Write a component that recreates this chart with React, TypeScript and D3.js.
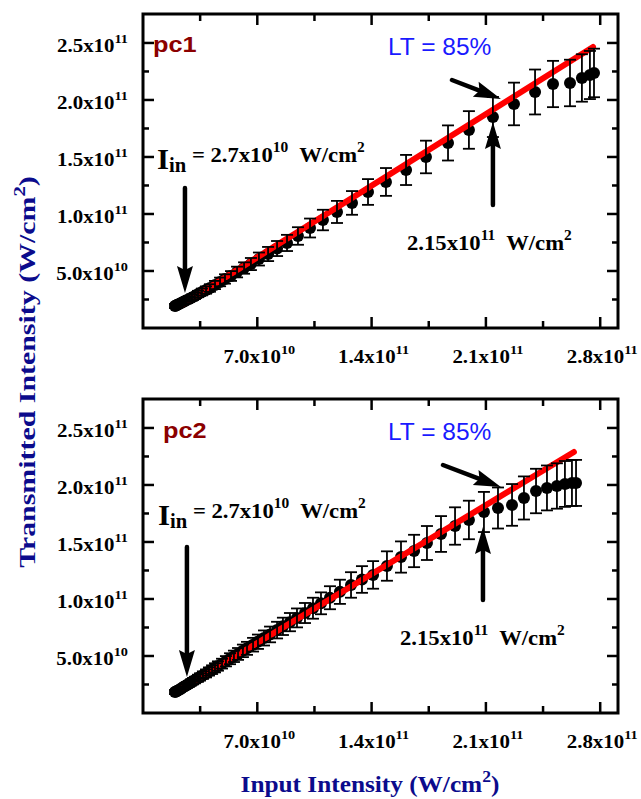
import React from "react";
import * as d3 from "d3";

// all intensities in units of 1e10 W/cm^2
const pc1Input = [1.96, 2.02, 2.08, 2.14, 2.27, 2.39, 2.51, 2.63, 2.82, 3.0, 3.18, 3.37, 3.61, 3.86, 4.1, 4.41, 4.72, 5.02, 5.39, 5.76, 6.19, 6.61, 7.1, 7.66, 8.21, 8.82, 9.49, 10.23, 11.02, 11.88, 12.8, 13.78, 14.88, 16.11, 17.33, 18.68, 19.96, 21.43, 22.72, 24.01, 25.11, 26.15, 26.88, 27.37, 27.62];
const pc1Output = [1.93, 1.97, 2.02, 2.06, 2.15, 2.24, 2.32, 2.41, 2.54, 2.68, 2.81, 2.98, 3.16, 3.33, 3.51, 3.77, 4.04, 4.3, 4.56, 4.91, 5.26, 5.61, 6.05, 6.49, 6.97, 7.46, 8.07, 8.77, 9.47, 10.18, 10.97, 11.93, 12.81, 13.86, 15.0, 16.23, 17.37, 18.51, 19.65, 20.7, 21.4, 21.49, 21.93, 22.19, 22.37];
const pc1Error = [0.18, 0.19, 0.19, 0.2, 0.2, 0.21, 0.22, 0.23, 0.24, 0.25, 0.27, 0.28, 0.3, 0.32, 0.33, 0.36, 0.38, 0.41, 0.43, 0.47, 0.5, 0.53, 0.57, 0.62, 0.66, 0.71, 0.77, 0.83, 0.9, 0.97, 1.04, 1.13, 1.22, 1.32, 1.43, 1.54, 1.65, 1.76, 1.87, 1.97, 2.03, 2.04, 2.08, 2.11, 2.13];
const pc1FitX = [2.4, 27.56];
const pc1FitY = [2.07, 24.65];

const pc2Input = [1.96, 2.02, 2.08, 2.14, 2.27, 2.33, 2.45, 2.57, 2.69, 2.82, 2.94, 3.06, 3.18, 3.37, 3.49, 3.67, 3.86, 4.04, 4.23, 4.41, 4.59, 4.84, 5.08, 5.33, 5.57, 5.82, 6.12, 6.37, 6.74, 7.04, 7.41, 7.78, 8.21, 8.57, 9.0, 9.43, 9.92, 10.41, 10.9, 11.45, 12.06, 12.74, 13.41, 14.09, 14.94, 15.8, 16.6, 17.39, 18.25, 19.11, 19.96, 20.88, 21.74, 22.6, 23.33, 24.07, 24.74, 25.35, 25.84, 26.27, 26.52];
const pc2Output = [1.84, 1.89, 1.93, 1.97, 2.08, 2.13, 2.25, 2.35, 2.46, 2.56, 2.68, 2.79, 2.89, 3.05, 3.16, 3.32, 3.47, 3.64, 3.8, 3.96, 4.12, 4.33, 4.54, 4.76, 4.97, 5.18, 5.45, 5.67, 5.99, 6.25, 6.58, 6.89, 7.27, 7.6, 7.97, 8.34, 8.77, 9.19, 9.62, 10.11, 10.63, 11.23, 11.71, 12.11, 12.89, 13.68, 14.21, 14.91, 15.7, 16.4, 16.93, 17.63, 17.98, 18.25, 18.86, 19.47, 19.74, 19.91, 20.09, 20.18, 20.18];
const pc2Error = [0.18, 0.19, 0.19, 0.2, 0.21, 0.21, 0.22, 0.24, 0.25, 0.26, 0.27, 0.28, 0.29, 0.31, 0.32, 0.33, 0.35, 0.36, 0.38, 0.4, 0.41, 0.43, 0.45, 0.48, 0.5, 0.52, 0.55, 0.57, 0.6, 0.63, 0.66, 0.69, 0.73, 0.76, 0.8, 0.83, 0.88, 0.92, 0.96, 1.01, 1.06, 1.12, 1.17, 1.21, 1.29, 1.37, 1.42, 1.49, 1.57, 1.64, 1.69, 1.76, 1.8, 1.83, 1.89, 1.95, 1.97, 1.99, 2.01, 2.02, 2.02];
const pc2FitX = [2.4, 26.39];
const pc2FitY = [2.16, 22.89];

const xMajor = [7, 14, 21, 28];
const xMajorLabels = ["7.0x10", "1.4x10", "2.1x10", "2.8x10"];
const xMajorExp = ["10", "11", "11", "11"];
const xMinor = [3.5, 10.5, 17.5, 24.5];
const yMajor = [5, 10, 15, 20, 25];
const yMajorLabels = ["5.0x10", "1.0x10", "1.5x10", "2.0x10", "2.5x10"];
const yMajorExp = ["10", "11", "11", "11", "11"];
const yMinor = [2.5, 7.5, 12.5, 17.5, 22.5];

const SERIF = "'Liberation Serif', 'Times New Roman', serif";
const SANS = "'Liberation Sans', Arial, sans-serif";
const NAVY = "#0b0b8c";

const left = 143;
const right = 618;
const panelH = 314;

const panels = [
  {
    name: "pc1",
    top: 14,
    xs: pc1Input,
    ys: pc1Output,
    errs: pc1Error,
    fitX: pc1FitX,
    fitY: pc1FitY,
    nameX: 153,
    nameY: 38,
    ltY: 41,
    inX: 157,
    inY: 148,
    critX: 407,
    critY: 236,
    arrows: [
      [2.57, 12.28, 2.57, 3.07],
      [21.43, 10.79, 21.43, 18.07],
      [18.92, 21.75, 21.92, 20.09],
    ],
  },
  {
    name: "pc2",
    top: 399,
    xs: pc2Input,
    ys: pc2Output,
    errs: pc2Error,
    fitX: pc2FitX,
    fitY: pc2FitY,
    nameX: 163,
    nameY: 39,
    ltY: 41,
    inX: 158,
    inY: 119,
    critX: 400,
    critY: 246,
    arrows: [
      [2.69, 14.56, 2.69, 3.16],
      [20.82, 9.91, 20.82, 16.32],
      [18.37, 21.75, 21.92, 19.82],
    ],
  },
];

type Part = { t: string; fs: number; dy?: number };

const Rich = ({ x, y, parts, sx = 1, anchor = "start", fill = "#000", family = SERIF, weight = "bold", rot = 0 }: any) => (
  <text
    transform={`translate(${x},${y}) rotate(${rot}) scale(${sx},1)`}
    textAnchor={anchor}
    fill={fill}
    fontFamily={family}
    fontWeight={weight}
    style={{ whiteSpace: "pre" }}
  >
    {parts.map((p: Part, i: number) => (
      <tspan key={i} fontSize={p.fs} dy={p.dy || 0}>
        {p.t}
      </tspan>
    ))}
  </text>
);

const Arrow = ({ x1, y1, x2, y2 }: any) => {
  const dx = x2 - x1;
  const dy = y2 - y1;
  const len = Math.hypot(dx, dy);
  const ux = dx / len;
  const uy = dy / len;
  const hl = 27;
  const hw = 8;
  const bx = x2 - ux * hl;
  const by = y2 - uy * hl;
  const pts = [
    [x2, y2],
    [bx - uy * hw, by + ux * hw],
    [bx + ux * 4, by + uy * 4],
    [bx + uy * hw, by - ux * hw],
  ];
  return (
    <g>
      <line x1={x1} y1={y1} x2={bx + ux * 4} y2={by + uy * 4} stroke="#000" strokeWidth={4.5} strokeLinecap="round" />
      <polygon points={pts.map((p) => p.join(",")).join(" ")} fill="#000" />
    </g>
  );
};

const Panel = ({ p }: any) => {
  const top = p.top;
  const bottom = top + panelH;
  const x = d3.scaleLinear().domain([0, 29.09]).range([left, right]);
  const y = d3.scaleLinear().domain([0, 27.54]).range([bottom, top]);
  const fitLine = d3
    .line<number>()
    .x((d) => x(d))
    .y((_, i) => y(p.fitY[i]));
  const tk = 2.5;
  return (
    <g>
      {/* markers */}
      {p.xs.map((v: number, i: number) => (
        <circle key={"m" + i} cx={x(v)} cy={y(p.ys[i])} r={6} fill="#000" />
      ))}
      {/* linear fit */}
      <path d={fitLine(p.fitX) || ""} fill="none" stroke="#ff0000" strokeWidth={6} strokeLinecap="round" />
      {/* error bars */}
      {p.xs.map((v: number, i: number) => {
        const cx = x(v);
        const y1 = y(p.ys[i] - p.errs[i]);
        const y2 = y(p.ys[i] + p.errs[i]);
        return (
          <g key={"e" + i} stroke="#000" strokeWidth={1.8}>
            <line x1={cx} x2={cx} y1={y1} y2={y2} />
            <line x1={cx - 6} x2={cx + 6} y1={y1} y2={y1} />
            <line x1={cx - 6} x2={cx + 6} y1={y2} y2={y2} />
          </g>
        );
      })}

      {/* frame and ticks */}
      <rect x={left} y={top} width={right - left} height={panelH} fill="none" stroke="#000" strokeWidth={3} />
      <g stroke="#000" strokeWidth={tk}>
        {xMajor.map((v) => (
          <g key={"xM" + v}>
            <line x1={x(v)} x2={x(v)} y1={bottom} y2={bottom - 11} />
            <line x1={x(v)} x2={x(v)} y1={top} y2={top + 11} />
          </g>
        ))}
        {xMinor.map((v) => (
          <g key={"xm" + v}>
            <line x1={x(v)} x2={x(v)} y1={bottom} y2={bottom - 7} />
            <line x1={x(v)} x2={x(v)} y1={top} y2={top + 7} />
          </g>
        ))}
        {yMajor.map((v) => (
          <g key={"yM" + v}>
            <line x1={left} x2={left + 11} y1={y(v)} y2={y(v)} />
            <line x1={right} x2={right - 11} y1={y(v)} y2={y(v)} />
          </g>
        ))}
        {yMinor.map((v) => (
          <g key={"ym" + v}>
            <line x1={left} x2={left + 6} y1={y(v)} y2={y(v)} />
            <line x1={right} x2={right - 6} y1={y(v)} y2={y(v)} />
          </g>
        ))}
      </g>
      {yMajor.map((v, i) => (
        <Rich
          key={"yl" + v}
          x={128}
          y={y(v) + 9}
          anchor="end"
          sx={1.1}
          parts={[
            { t: yMajorLabels[i], fs: 19 },
            { t: yMajorExp[i], fs: 13, dy: -9 },
          ]}
        />
      ))}
      {xMajor.map((v, i) => (
        <Rich
          key={"xl" + v}
          x={x(v) + 2}
          y={bottom + 35}
          anchor="middle"
          sx={1.1}
          parts={[
            { t: xMajorLabels[i], fs: 19 },
            { t: xMajorExp[i], fs: 13, dy: -9 },
          ]}
        />
      ))}

      {/* annotations */}
      <Rich x={p.nameX} y={top + p.nameY} family={SANS} fill="#8b0000" sx={1.15} parts={[{ t: p.name, fs: 22 }]} />
      <Rich x={388} y={top + p.ltY} family={SANS} weight="normal" fill="#1a1aff" parts={[{ t: "LT = 85%", fs: 24.5 }]} />
      <Rich
        x={p.inX}
        y={top + p.inY}
        sx={1.03}
        parts={[
          { t: "I", fs: 30, dy: 7 },
          { t: "in", fs: 20, dy: 3 },
          { t: " = 2.7x10", fs: 22, dy: -10 },
          { t: "10", fs: 15, dy: -10 },
          { t: "  W/cm", fs: 22, dy: 10 },
          { t: "2", fs: 15, dy: -10 },
        ]}
      />
      <Rich
        x={p.critX}
        y={top + p.critY}
        sx={1.03}
        parts={[
          { t: "2.15x10", fs: 22 },
          { t: "11", fs: 15, dy: -10 },
          { t: "  W/cm", fs: 22, dy: 10 },
          { t: "2", fs: 15, dy: -10 },
        ]}
      />
      {p.arrows.map((a: number[], i: number) => (
        <Arrow key={"a" + i} x1={x(a[0])} y1={y(a[1])} x2={x(a[2])} y2={y(a[3])} />
      ))}
    </g>
  );
};

export default function App() {
  return (
    <svg width={641} height={799} style={{ position: "absolute", left: 0, top: 0, background: "#fff" }}>
      <rect width={641} height={799} fill="#fff" />
      {panels.map((p) => (
        <Panel key={p.name} p={p} />
      ))}
      <Rich
        x={35}
        y={372}
        rot={-90}
        anchor="middle"
        sx={1.3}
        fill={NAVY}
        parts={[
          { t: "Transmitted Intensity (W/cm", fs: 23 },
          { t: "2", fs: 16, dy: -10 },
          { t: ")", fs: 23, dy: 10 },
        ]}
      />
      <Rich
        x={370}
        y={792}
        anchor="middle"
        sx={1.1}
        fill={NAVY}
        parts={[
          { t: "Input Intensity (W/cm", fs: 23 },
          { t: "2", fs: 16, dy: -10 },
          { t: ")", fs: 23, dy: 10 },
        ]}
      />
    </svg>
  );
}
